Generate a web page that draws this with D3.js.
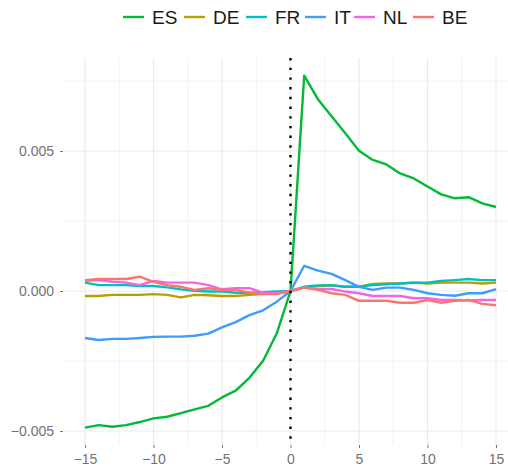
<!DOCTYPE html>
<html>
<head>
<meta charset="utf-8">
<script src="https://cdn.jsdelivr.net/npm/d3@7"></script>
<style>
  body { margin: 0; background: #fff; }
  text { font-family: "Liberation Sans", Arial, sans-serif; }
</style>
</head>
<body>
<script>
var width = 508, height = 470;

// event-time in days relative to the event
var days = d3.range(-15, 16);

var countries = ["ES", "DE", "FR", "IT", "NL", "BE"];
var colors = ["#00BA38", "#B79F00", "#00BFC4", "#3D9DFF", "#F564E3", "#F8766D"];

var ES = [-0.00488, -0.00479, -0.00485, -0.00479, -0.00468, -0.00455, -0.00449, -0.00436, -0.00423, -0.0041,
  -0.0038, -0.00356, -0.0031, -0.00249, -0.00151, 0,
  0.00769, 0.00685, 0.00624, 0.00563, 0.00501, 0.00468, 0.00452, 0.0042, 0.00402, 0.00373,
  0.00345, 0.00331, 0.00335, 0.00313, 0.003];
var DE = [-0.00018, -0.00018, -0.00014, -0.00014, -0.00014, -0.00011, -0.00014, -0.00023, -0.00014, -0.00015,
  -0.00018, -0.00018, -0.00014, -0.00011, -0.00006, 0,
  0.00013, 0.00018, 0.0002, 0.00015, 0.00015, 0.00025, 0.00027, 0.00027, 0.0003, 0.00027,
  0.0003, 0.0003, 0.0003, 0.00027, 0.0003];
var FR = [0.0003, 0.00021, 0.00021, 0.00021, 0.00018, 0.00018, 0.00013, 0.00006, 0.00001, -0.00002,
  -0.00002, -0.00006, -0.00006, -0.00004, -0.00002, 0,
  0.00015, 0.0002, 0.00021, 0.00015, 0.00015, 0.00021, 0.00024, 0.00027, 0.0003, 0.0003,
  0.00036, 0.00039, 0.00043, 0.00039, 0.00039];
var IT = [-0.00168, -0.00175, -0.00171, -0.00171, -0.00168, -0.00164, -0.00163, -0.00163, -0.0016, -0.00152,
  -0.0013, -0.00111, -0.00086, -0.00069, -0.00038, 0,
  0.0009, 0.00073, 0.00061, 0.00039, 0.00015, 0.00004, 0.00012, 0.00012, 0.00004, -0.00008,
  -0.00014, -0.00017, -0.00008, -0.00008, 0.00007];
var NL = [0.00036, 0.00039, 0.00033, 0.0003, 0.00021, 0.00036, 0.0003, 0.0003, 0.0003, 0.00021,
  0.00006, 0.0001, 0.0001, -0.00006, -0.00008, 0,
  0.00012, 0.00007, 0.00007, -0.00002, -0.00008, -0.00018, -0.00018, -0.00018, -0.00026, -0.00026,
  -0.00032, -0.00032, -0.00034, -0.00032, -0.00032];
var BE = [0.00039, 0.00043, 0.00043, 0.00043, 0.00051, 0.00033, 0.00021, 0.00015, 0.00004, 0.0001,
  0.00004, 0.00004, -0.00006, -0.00011, -0.00011, 0,
  0.00012, 0.00004, -0.00008, -0.00014, -0.00035, -0.00035, -0.00035, -0.00042, -0.00042, -0.00032,
  -0.00042, -0.00035, -0.00032, -0.00046, -0.00051];

var seriesValues = [ES, DE, FR, IT, NL, BE];

var xTicks = [-15, -10, -5, 0, 5, 10, 15];
var xMinor = [-12.5, -7.5, -2.5, 2.5, 7.5, 12.5];
var yTicks = [-0.005, 0, 0.005];
var yMinor = [-0.0025, 0.0025, 0.0075];

var panel = { left: 64, right: 508, top: 58, bottom: 445 };

var x = d3.scaleLinear().domain([-15, 15]).range([85, 496]);
var y = d3.scaleLinear().domain([-0.005, 0.005]).range([431, 151]);

var svg = d3.select("body").append("svg")
  .attr("width", width)
  .attr("height", height);

svg.append("rect").attr("width", width).attr("height", height).attr("fill", "#fff");

// grid
var grid = svg.append("g");
grid.selectAll(".xminor").data(xMinor).enter().append("line")
  .attr("x1", function(d) { return x(d); }).attr("x2", function(d) { return x(d); })
  .attr("y1", panel.top).attr("y2", panel.bottom)
  .style("stroke", "#f2f2f2").style("stroke-width", 1);
grid.selectAll(".yminor").data(yMinor).enter().append("line")
  .attr("y1", function(d) { return y(d); }).attr("y2", function(d) { return y(d); })
  .attr("x1", panel.left).attr("x2", panel.right)
  .style("stroke", "#f2f2f2").style("stroke-width", 1);
grid.selectAll(".xmajor").data(xTicks).enter().append("line")
  .attr("x1", function(d) { return x(d); }).attr("x2", function(d) { return x(d); })
  .attr("y1", panel.top).attr("y2", panel.bottom)
  .style("stroke", "#ebebeb").style("stroke-width", 1.2);
grid.selectAll(".ymajor").data(yTicks).enter().append("line")
  .attr("y1", function(d) { return y(d); }).attr("y2", function(d) { return y(d); })
  .attr("x1", panel.left).attr("x2", panel.right)
  .style("stroke", "#ebebeb").style("stroke-width", 1.2);

// axes
var xAxis = d3.axisBottom(x).tickValues(xTicks).tickSize(3).tickPadding(6)
  .tickFormat(d3.format("d"));
var gx = svg.append("g").attr("transform", "translate(0," + panel.bottom + ")").call(xAxis);
gx.select(".domain").remove();

var yAxis = d3.axisLeft(y).tickValues(yTicks).tickSize(3).tickPadding(6)
  .tickFormat(d3.format(".3f"));
var gy = svg.append("g").attr("transform", "translate(" + (panel.left - 1) + ",0)").call(yAxis);
gy.select(".domain").remove();

svg.selectAll(".tick line").style("stroke", "#777").style("stroke-width", 1);
svg.selectAll(".tick text").style("fill", "#737373").style("font-size", "14px")
  .style("font-family", "'Liberation Sans', Arial, sans-serif");

// series lines
var line = d3.line()
  .x(function(d, i) { return x(days[i]); })
  .y(function(d) { return y(d); });

svg.append("g").selectAll("path")
  .data(seriesValues)
  .enter().append("path")
  .attr("d", line)
  .style("fill", "none")
  .style("stroke", function(d, i) { return colors[i]; })
  .style("stroke-width", 2.4)
  .style("stroke-linejoin", "round");

// event line
svg.append("line")
  .attr("x1", x(0)).attr("x2", x(0))
  .attr("y1", panel.top).attr("y2", panel.bottom)
  .style("stroke", "#000")
  .style("stroke-width", 2.4)
  .style("stroke-dasharray", "2.4,7.3");

// legend
var keyX = [123, 184, 246, 305, 354, 413];
var legend = svg.append("g").selectAll("g")
  .data(countries)
  .enter().append("g")
  .attr("transform", function(d, i) { return "translate(" + keyX[i] + ",17)"; });

legend.append("line")
  .attr("x1", 0).attr("x2", 21)
  .style("stroke", function(d, i) { return colors[i]; })
  .style("stroke-width", 2.4);

legend.append("text")
  .attr("x", 29)
  .attr("dy", "0.36em")
  .style("font-size", "19px")
  .style("fill", "#1a1a1a")
  .text(function(d) { return d; });
</script>
</body>
</html>
